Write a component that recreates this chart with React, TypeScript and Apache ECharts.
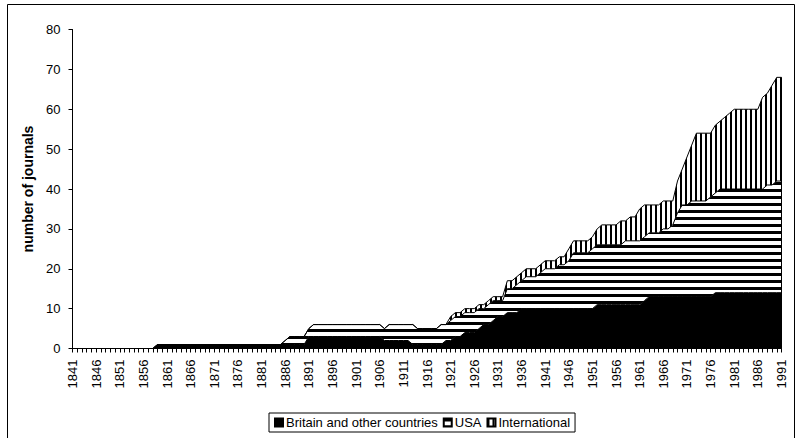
import React, { useEffect, useRef } from "react";
import * as echarts from "echarts";

const years = [
  1841, 1842, 1843, 1844, 1845, 1846, 1847, 1848, 1849, 1850,
  1851, 1852, 1853, 1854, 1855, 1856, 1857, 1858, 1859, 1860,
  1861, 1862, 1863, 1864, 1865, 1866, 1867, 1868, 1869, 1870,
  1871, 1872, 1873, 1874, 1875, 1876, 1877, 1878, 1879, 1880,
  1881, 1882, 1883, 1884, 1885, 1886, 1887, 1888, 1889, 1890,
  1891, 1892, 1893, 1894, 1895, 1896, 1897, 1898, 1899, 1900,
  1901, 1902, 1903, 1904, 1905, 1906, 1907, 1908, 1909, 1910,
  1911, 1912, 1913, 1914, 1915, 1916, 1917, 1918, 1919, 1920,
  1921, 1922, 1923, 1924, 1925, 1926, 1927, 1928, 1929, 1930,
  1931, 1932, 1933, 1934, 1935, 1936, 1937, 1938, 1939, 1940,
  1941, 1942, 1943, 1944, 1945, 1946, 1947, 1948, 1949, 1950,
  1951, 1952, 1953, 1954, 1955, 1956, 1957, 1958, 1959, 1960,
  1961, 1962, 1963, 1964, 1965, 1966, 1967, 1968, 1969, 1970,
  1971, 1972, 1973, 1974, 1975, 1976, 1977, 1978, 1979, 1980,
  1981, 1982, 1983, 1984, 1985, 1986, 1987, 1988, 1989, 1990,
  1991,
];

// 1841-1991
const britain = [
  0, 0, 0, 0, 0, 0, 0, 0, 0, 0,
  0, 0, 0, 0, 0, 0, 0, 0, 1, 1,
  1, 1, 1, 1, 1, 1, 1, 1, 1, 1,
  1, 1, 1, 1, 1, 1, 1, 1, 1, 1,
  1, 1, 1, 1, 1, 1, 1, 1, 1, 1,
  3, 3, 3, 3, 3, 3, 3, 3, 3, 3,
  3, 3, 3, 3, 3, 3, 2, 2, 2, 2,
  2, 2, 1, 1, 1, 1, 1, 1, 1, 2,
  2, 3, 3, 4, 4, 4, 5, 6, 6, 7,
  8, 8, 9, 9, 9, 10, 10, 10, 10, 10,
  10, 10, 10, 10, 10, 10, 10, 10, 10, 10,
  10, 11, 11, 11, 11, 11, 11, 11, 11, 11,
  11, 12, 13, 13, 13, 13, 13, 13, 13, 13,
  13, 13, 13, 13, 13, 13, 14, 14, 14, 14,
  14, 14, 14, 14, 14, 14, 14, 14, 14, 14,
  14,
];

const usa = [
  0, 0, 0, 0, 0, 0, 0, 0, 0, 0,
  0, 0, 0, 0, 0, 0, 0, 0, 0, 0,
  0, 0, 0, 0, 0, 0, 0, 0, 0, 0,
  0, 0, 0, 0, 0, 0, 0, 0, 0, 0,
  0, 0, 0, 0, 0, 1, 2, 2, 2, 2,
  2, 3, 3, 3, 3, 3, 3, 3, 3, 3,
  3, 3, 3, 3, 3, 3, 3, 4, 4, 4,
  4, 4, 5, 4, 4, 4, 4, 4, 5, 4,
  5, 5, 5, 5, 5, 5, 5, 4, 5, 5,
  4, 4, 6, 6, 7, 7, 8, 8, 8, 9,
  10, 10, 10, 11, 11, 12, 14, 14, 14, 14,
  15, 15, 15, 15, 15, 15, 15, 16, 16, 16,
  16, 16, 16, 16, 16, 17, 17, 18, 21, 23,
  23, 24, 24, 24, 24, 25, 25, 26, 26, 26,
  26, 26, 26, 26, 26, 26, 26, 27, 27, 28,
  28,
];

const international = [
  0, 0, 0, 0, 0, 0, 0, 0, 0, 0,
  0, 0, 0, 0, 0, 0, 0, 0, 0, 0,
  0, 0, 0, 0, 0, 0, 0, 0, 0, 0,
  0, 0, 0, 0, 0, 0, 0, 0, 0, 0,
  0, 0, 0, 0, 0, 0, 0, 0, 0, 0,
  0, 0, 0, 0, 0, 0, 0, 0, 0, 0,
  0, 0, 0, 0, 0, 0, 0, 0, 0, 0,
  0, 0, 0, 0, 0, 0, 0, 0, 0, 0,
  1, 1, 1, 1, 1, 1, 1, 1, 1, 1,
  1, 1, 2, 2, 2, 2, 2, 2, 2, 2,
  2, 2, 2, 2, 2, 3, 3, 3, 3, 3,
  3, 4, 5, 5, 5, 5, 6, 5, 6, 6,
  8, 8, 7, 7, 7, 7, 7, 6, 8, 9,
  12, 14, 17, 17, 17, 16, 17, 17, 18, 19,
  20, 20, 20, 20, 20, 20, 23, 23, 25, 26,
  26,
];

const seriesNames = ["Britain and other countries", "USA", "International"];
const yMin = 0;
const yMax = 80;
const yInterval = 10;

const FONT = "'Liberation Sans', Arial, sans-serif";

function makePattern(w: number, h: number, draw: (ctx: CanvasRenderingContext2D) => void) {
  const c = document.createElement("canvas");
  c.width = w;
  c.height = h;
  const ctx = c.getContext("2d")!;
  ctx.fillStyle = "#ffffff";
  ctx.fillRect(0, 0, w, h);
  ctx.fillStyle = "#000000";
  draw(ctx);
  return { image: c, repeat: "repeat", imageWidth: w, imageHeight: h } as any;
}

export default function App() {
  const ref = useRef<HTMLDivElement>(null);

  useEffect(() => {
    if (!ref.current) return;
    const chart = echarts.init(ref.current, null, { renderer: "svg" });

    const hStripes = makePattern(4, 7, (ctx) => ctx.fillRect(0, 0, 4, 3));
    const vStripes = makePattern(5, 4, (ctx) => ctx.fillRect(0, 0, 2, 4));

    const last = years.length - 1;
    const lastTotal = britain[last] + usa[last] + international[last];

    const common = {
      type: "line",
      stack: "total",
      showSymbol: false,
      symbol: "none",
      lineStyle: { color: "#000", width: 1 },
      emphasis: { disabled: true },
    };

    chart.setOption({
      animation: false,
      graphic: [
        {
          type: "rect",
          shape: { x: 7.5, y: 4.5, width: 787, height: 445 },
          style: { fill: "none", stroke: "#000", lineWidth: 1 },
          silent: true,
          z: -10,
        },
      ],
      grid: { left: 72.5, right: 20.5, top: 29.5, bottom: 89.5, containLabel: false },
      legend: {
        left: 269,
        top: 413,
        icon: "rect",
        itemWidth: 8,
        itemHeight: 8,
        itemGap: 5,
        padding: [3, 5, 3, 5],
        borderColor: "#000",
        borderWidth: 1,
        textStyle: { fontFamily: FONT, fontSize: 13, color: "#000", padding: [0, 0, 0, -2] },
        data: seriesNames,
        selectedMode: false,
      },
      xAxis: {
        type: "category",
        data: years.map(String),
        boundaryGap: false,
        axisLine: { show: true, lineStyle: { color: "#000", width: 1 } },
        axisTick: { show: true, interval: 0, length: 4, lineStyle: { color: "#000" } },
        axisLabel: {
          interval: 4,
          rotate: 90,
          fontFamily: FONT,
          fontSize: 13,
          color: "#000",
          margin: 11,
        },
        splitLine: { show: false },
      },
      yAxis: {
        type: "value",
        min: yMin,
        max: yMax,
        interval: yInterval,
        name: "number of journals",
        nameLocation: "middle",
        nameRotate: 90,
        nameGap: 34,
        nameTextStyle: { fontFamily: FONT, fontSize: 14, fontWeight: "bold", color: "#000" },
        axisLine: { show: true, lineStyle: { color: "#000", width: 1 } },
        axisTick: { show: true, length: 4, lineStyle: { color: "#000" } },
        axisLabel: { fontFamily: FONT, fontSize: 13, color: "#000", margin: 12 },
        splitLine: { show: false },
      },
      series: [
        {
          ...common,
          name: seriesNames[0],
          data: britain,
          itemStyle: { color: "#000", borderColor: "#000", borderWidth: 1 },
          areaStyle: { color: "#000", opacity: 1 },
        },
        {
          ...common,
          name: seriesNames[1],
          data: usa,
          itemStyle: { color: hStripes, borderColor: "#000", borderWidth: 1 },
          areaStyle: { color: hStripes, opacity: 1 },
        },
        {
          ...common,
          name: seriesNames[2],
          data: international,
          itemStyle: { color: vStripes, borderColor: "#000", borderWidth: 1 },
          areaStyle: { color: vStripes, opacity: 1 },
          markLine: {
            silent: true,
            symbol: "none",
            label: { show: false },
            lineStyle: { color: "#000", width: 1, type: "solid" },
            data: [[{ coord: [String(years[last]), 0] }, { coord: [String(years[last]), lastTotal] }]],
          },
        },
      ],
    });

    return () => chart.dispose();
  }, []);

  return (
    <div
      ref={ref}
      style={{ position: "fixed", left: 0, top: 0, width: 802, height: 438, background: "#fff" }}
    />
  );
}
